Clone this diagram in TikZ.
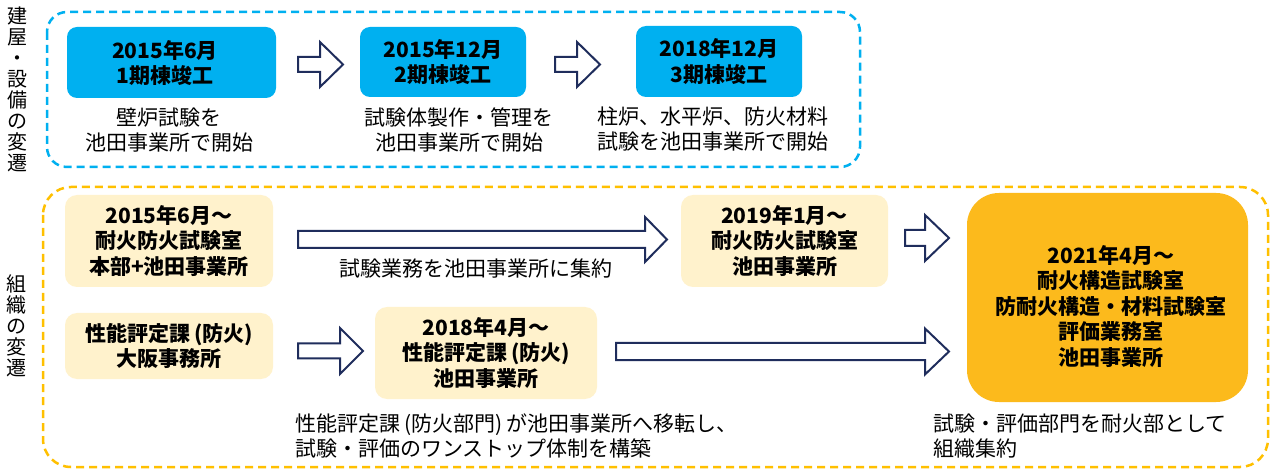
\documentclass[tikz,border=0pt]{standalone}
\usepackage{fontspec}
\setmainfont{Noto Sans CJK JP}
\definecolor{bluebox}{HTML}{00B0F0}
\definecolor{lightbox}{HTML}{FFF2CC}
\definecolor{orangebox}{HTML}{FCBA1C}
\definecolor{orangedash}{HTML}{FFC000}
\definecolor{navy}{HTML}{1F2D5C}
\newcommand\lp{\hspace{4pt}(}
\newcommand\rp{)\hspace{4pt}}
\tikzset{
  boxtext/.style={font=\bfseries\fontsize{21}{25.5}\selectfont, align=center, text=black},
  capt/.style={font=\fontsize{21}{25}\selectfont, align=center, text=black, inner sep=0pt},
  bluenode/.style={boxtext, fill=bluebox, rounded corners=10pt, inner sep=0pt},
  lightnode/.style={boxtext, fill=lightbox, rounded corners=12pt, inner sep=0pt},
  groupframe/.style={dashed, line width=2.5pt, dash pattern=on 8pt off 5pt},
  hollowarrow/.style={draw=navy, fill=white, line width=2pt, line join=miter},
  sidelabel/.style={font=\fontsize{20}{21}\selectfont, align=center, inner sep=0pt}
}
\newcommand\blockarrow[6]{% x-start, x-tip, x-headstart, y-center, shaft half, head half
  \draw[hollowarrow] (#1,#4-#5) -- (#3,#4-#5) -- (#3,#4-#6) -- (#2,#4) -- (#3,#4+#6) -- (#3,#4+#5) -- (#1,#4+#5) -- cycle;}
\begin{document}
\begin{tikzpicture}[x=1pt,y=-1pt]
\useasboundingbox[fill=white] (0,0) rectangle (1272,470);

% group frames
\draw[groupframe, draw=bluebox, rounded corners=20pt] (47,12) rectangle (860,167);
\draw[groupframe, draw=orangedash, rounded corners=28pt] (43,187) rectangle (1268,467);

% side labels
\node[sidelabel] (lab1) at (18,89) {建\\屋\\・\\設\\備\\の\\変\\遷};
\node[sidelabel] (lab2) at (16,325.5) {組\\織\\の\\変\\遷};

% top row
\node[bluenode, minimum width=209pt, minimum height=71pt] (b1) at (171.5,62.5) {};
\node[boxtext, inner sep=0pt] (b1t) at (165,63) {2015年6月\\1期棟竣工};
\node[bluenode, minimum width=166pt, minimum height=70pt] (b2) at (443,62) {2015年12月\\2期棟竣工};
\node[bluenode, minimum width=166pt, minimum height=71pt] (b3) at (719,61.5) {2018年12月\\3期棟竣工};

\node[capt] (c1) at (169,130.5) {壁炉試験を\\池田事業所で開始};
\node[capt] (c2) at (459,130.5) {試験体製作・管理を\\池田事業所で開始};
\node[capt] (c3) at (713,129.5) {柱炉、水平炉、防火材料\\試験を池田事業所で開始};

\blockarrow{298}{343}{320}{64.5}{7.5}{22.5}
\blockarrow{555}{600}{577}{64.5}{7.5}{22.5}

% bottom group
\node[lightnode, minimum width=208pt, minimum height=92pt] (oa) at (169,241) {2015年6月～\\耐火防火試験室\\本部+池田事業所};
\node[lightnode, minimum width=208pt, minimum height=66pt] (ob) at (169,346) {性能評定課\lp 防火\rp\\大阪事務所};
\node[lightnode, minimum width=207pt, minimum height=92pt] (oc) at (784.5,241) {2019年1月～\\耐火防火試験室\\池田事業所};
\node[lightnode, minimum width=222pt, minimum height=92pt] (od) at (486,353) {2018年4月～\\性能評定課\lp 防火\rp\\池田事業所};
\node[fill=orangebox, rounded corners=32pt, minimum width=281pt, minimum height=209pt, inner sep=0pt] (oe) at (1107.5,297.5) {};
\node[boxtext] (oetext) at (1111,306.5) {2021年4月～\\耐火構造試験室\\防耐火構造・材料試験室\\評価業務室\\池田事業所};

\blockarrow{298}{667}{645}{239.5}{8.5}{22.5}
\node[capt] (ca) at (476,269) {試験業務を池田事業所に集約};
\blockarrow{298}{363}{340}{351}{7.5}{23}
\blockarrow{616}{949}{925}{351.5}{8.5}{23}
\blockarrow{905}{949}{925}{238}{8}{23}

\node[capt, anchor=west, align=left] (cd) at (295,435.5) {性能評定課\lp 防火部門\rp が池田事業所へ移転し、\\試験・評価のワンストップ体制を構築};
\node[capt, anchor=west, align=left] (ce) at (933,436.5) {試験・評価部門を耐火部として\\組織集約};
\end{tikzpicture}
\end{document}
